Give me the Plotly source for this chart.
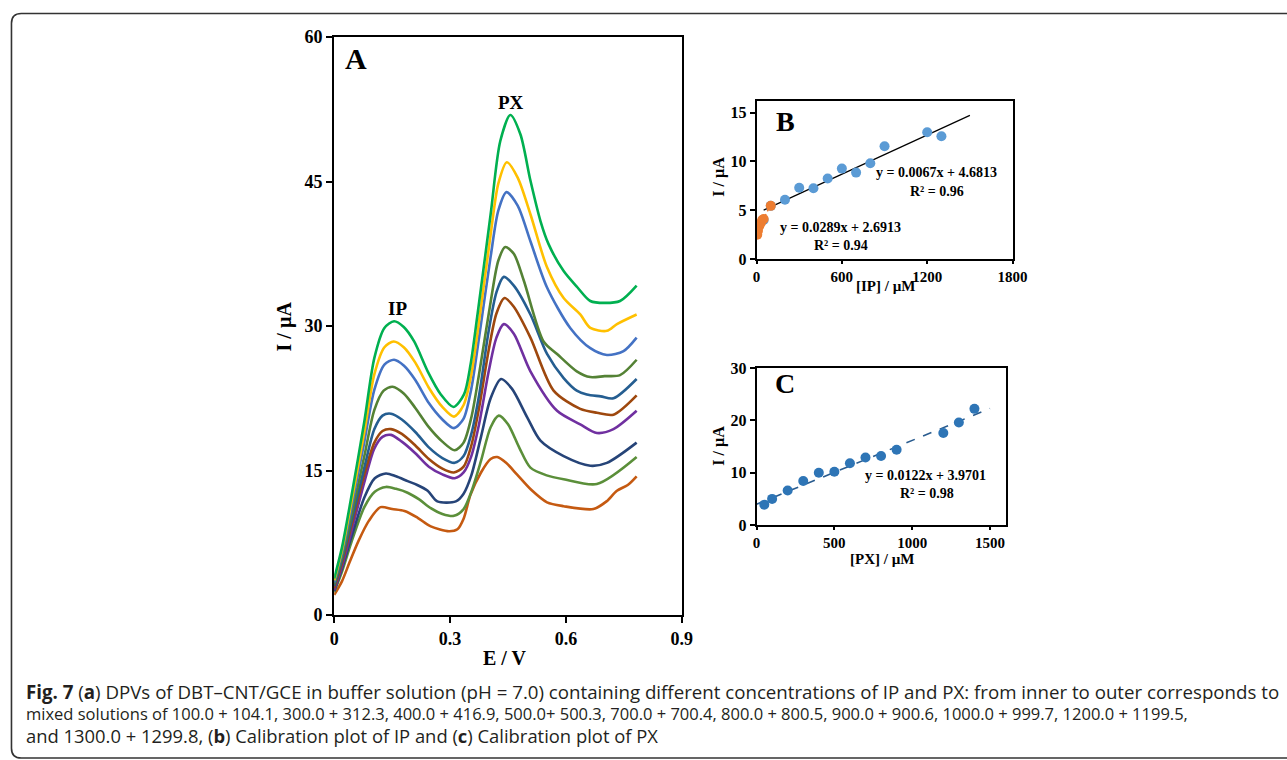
import plotly.graph_objects as go

# Empirical mapping between figure pixels and the photographed page pixels
SX, BX = 0.9885, 2.5
SY, BY = 0.974, 9.0
W, H = 1301, 772

# ---------------- Panel A data (DPV curves, inner -> outer) ----------------
E1 = [0, 0.02, 0.04, 0.063, 0.09, 0.12, 0.15, 0.182, 0.216, 0.25, 0.297, 0.319, 0.335, 0.353, 0.38, 0.405, 0.422, 0.445, 0.473, 0.51, 0.551, 0.594, 0.671, 0.705, 0.732, 0.76, 0.783]
I1 = [2.1, 3.5, 5.5, 7.7, 9.8, 11.2, 11.0, 10.8, 10.1, 9.2, 8.7, 8.9, 10.0, 12.5, 14.8, 16.2, 16.4, 15.8, 14.6, 13.0, 11.7, 11.3, 11.0, 11.8, 12.9, 13.5, 14.4]

E2 = [0, 0.02, 0.044, 0.078, 0.105, 0.134, 0.16, 0.19, 0.22, 0.25, 0.28, 0.31, 0.335, 0.355, 0.38, 0.405, 0.426, 0.45, 0.48, 0.508, 0.55, 0.594, 0.68, 0.783]
I2 = [2.4, 4.5, 7.5, 11.2, 12.8, 13.3, 13.1, 12.7, 12.0, 11.1, 10.5, 10.3, 11.0, 12.8, 16.0, 19.5, 20.7, 19.8, 17.3, 15.3, 14.5, 14.1, 13.6, 16.4]

E3 = [0, 0.02, 0.044, 0.078, 0.105, 0.134, 0.16, 0.19, 0.215, 0.242, 0.267, 0.315, 0.335, 0.355, 0.38, 0.405, 0.432, 0.46, 0.50, 0.534, 0.594, 0.663, 0.706, 0.783]
I3 = [2.5, 4.8, 8.0, 12.2, 14.2, 14.7, 14.4, 13.9, 13.5, 12.9, 11.8, 11.8, 12.6, 14.5, 18.5, 22.5, 24.5, 23.5, 20.5, 18.1, 16.5, 15.5, 15.8, 17.9]

E4 = [0, 0.02, 0.044, 0.078, 0.104, 0.125, 0.147, 0.175, 0.21, 0.245, 0.28, 0.312, 0.335, 0.355, 0.375, 0.40, 0.42, 0.439, 0.465, 0.508, 0.577, 0.637, 0.68, 0.723, 0.783]
I4 = [2.6, 5.0, 8.6, 13.8, 17.3, 18.5, 18.7, 18.0, 16.8, 15.4, 14.6, 14.2, 14.8, 16.5, 19.8, 25.3, 28.8, 30.2, 29.2, 25.3, 21.2, 19.8, 18.9, 19.3, 21.2]

E5 = [0, 0.02, 0.044, 0.078, 0.104, 0.125, 0.147, 0.175, 0.21, 0.245, 0.28, 0.31, 0.335, 0.355, 0.375, 0.40, 0.42, 0.441, 0.465, 0.508, 0.568, 0.637, 0.68, 0.723, 0.783]
I5 = [2.8, 5.4, 9.2, 14.6, 17.9, 19.1, 19.3, 18.8, 17.6, 16.2, 15.2, 14.8, 15.4, 17.6, 21.5, 27.5, 31.3, 32.9, 32.0, 28.8, 23.3, 21.4, 21.0, 20.8, 22.8]

E6 = [0, 0.02, 0.044, 0.078, 0.104, 0.125, 0.147, 0.175, 0.21, 0.245, 0.28, 0.312, 0.335, 0.355, 0.375, 0.40, 0.42, 0.439, 0.465, 0.508, 0.551, 0.594, 0.628, 0.654, 0.69, 0.723, 0.783]
I6 = [3.0, 5.7, 9.6, 15.3, 19.3, 20.7, 20.9, 20.3, 19.0, 17.4, 16.3, 15.8, 16.5, 18.8, 22.8, 29.5, 33.5, 35.1, 34.2, 31.2, 27.1, 24.6, 23.3, 22.9, 22.7, 22.5, 24.5]

E7 = [0, 0.02, 0.044, 0.078, 0.104, 0.128, 0.151, 0.18, 0.21, 0.245, 0.28, 0.312, 0.335, 0.355, 0.375, 0.405, 0.425, 0.443, 0.465, 0.491, 0.542, 0.577, 0.628, 0.663, 0.70, 0.74, 0.783]
I7 = [3.2, 6.0, 10.2, 16.5, 21.3, 23.3, 23.7, 23.0, 21.5, 19.5, 18.0, 17.1, 17.9, 20.5, 25.0, 32.5, 36.8, 38.2, 37.5, 34.7, 28.4, 27.1, 25.3, 24.7, 24.8, 24.9, 26.5]

E8 = [0, 0.02, 0.044, 0.078, 0.104, 0.13, 0.155, 0.18, 0.21, 0.245, 0.28, 0.31, 0.335, 0.355, 0.375, 0.405, 0.425, 0.446, 0.475, 0.508, 0.551, 0.611, 0.663, 0.706, 0.749, 0.783]
I8 = [3.4, 6.4, 11.0, 18.0, 23.4, 26.0, 26.5, 25.9, 24.4, 22.0, 20.3, 19.4, 20.4, 23.5, 28.8, 37.2, 42.0, 43.9, 42.5, 38.8, 34.0, 29.8, 27.7, 27.0, 27.4, 28.8]

E9 = [0, 0.02, 0.044, 0.078, 0.104, 0.13, 0.154, 0.18, 0.21, 0.245, 0.28, 0.31, 0.335, 0.355, 0.375, 0.405, 0.425, 0.447, 0.475, 0.508, 0.551, 0.594, 0.637, 0.663, 0.706, 0.732, 0.783]
I9 = [3.6, 6.7, 11.6, 19.0, 25.0, 27.8, 28.4, 27.8, 26.2, 23.6, 21.6, 20.6, 21.8, 25.0, 30.5, 39.5, 44.8, 47.0, 45.4, 41.6, 36.1, 32.9, 31.2, 29.8, 29.5, 30.2, 31.2]

E10 = [0, 0.02, 0.044, 0.078, 0.104, 0.13, 0.155, 0.18, 0.207, 0.242, 0.276, 0.309, 0.336, 0.353, 0.371, 0.405, 0.43, 0.456, 0.482, 0.508, 0.534, 0.555, 0.594, 0.63, 0.663, 0.70, 0.74, 0.783]
I10 = [3.8, 7.0, 12.2, 20.1, 26.7, 29.8, 30.5, 29.9, 28.4, 25.3, 22.9, 21.6, 22.9, 26.0, 31.2, 41.6, 49.2, 51.9, 49.9, 45.1, 40.9, 38.5, 35.7, 34.0, 32.6, 32.4, 32.6, 34.2]

curves_E = [E1, E2, E3, E4, E5, E6, E7, E8, E9, E10]
curves_I = [I1, I2, I3, I4, I5, I6, I7, I8, I9, I10]
curve_colors = ["#C55A11", "#5B8F3A", "#264478", "#7030A0", "#9E480E",
                "#255E91", "#548235", "#4472C4", "#FFC000", "#00B050"]

# ---------------- Panel B data (IP calibration) ----------------
ip_low_x = [5, 10, 20, 30, 40, 50, 100]
ip_low_y = [2.5, 2.9, 3.4, 3.7, 4.0, 4.1, 5.45]
ip_high_x = [50, 100, 200, 300, 400, 500, 600, 700, 800, 900, 1200, 1300]
ip_high_y = [4.0, 5.45, 6.07, 7.3, 7.26, 8.25, 9.27, 8.86, 9.82, 11.56, 13.0, 12.58]
ip_fit_high = (0.0067, 4.6813)
ip_fit_low = (0.0289, 2.6913)

# ---------------- Panel C data (PX calibration) ----------------
px_x = [50, 100, 200, 300, 400, 500, 600, 700, 800, 900, 1200, 1300, 1400]
px_y = [3.9, 5.0, 6.6, 8.4, 10.0, 10.2, 11.8, 12.9, 13.2, 14.4, 17.6, 19.6, 22.2]
px_fit = (0.0122, 3.9701)

SERIF = "Liberation Serif"

fig = go.Figure()

# Panel A traces
for Ex, Iy, c in zip(curves_E, curves_I, curve_colors):
    fig.add_trace(go.Scatter(x=Ex, y=Iy, mode="lines",
                             line=dict(color=c, width=2.6, shape="spline", smoothing=0.8),
                             xaxis="x", yaxis="y", showlegend=False, hoverinfo="skip"))

# Panel B traces
bx0, bx1 = 50, 1500
fig.add_trace(go.Scatter(x=[bx0, bx1], y=[ip_fit_high[0] * bx0 + ip_fit_high[1], ip_fit_high[0] * bx1 + ip_fit_high[1]],
                         mode="lines", line=dict(color="black", width=1.2),
                         xaxis="x2", yaxis="y2", showlegend=False))
fig.add_trace(go.Scatter(x=ip_high_x, y=ip_high_y, mode="markers",
                         marker=dict(color="#5B9BD5", size=10),
                         xaxis="x2", yaxis="y2", showlegend=False))
lx0, lx1 = 0, 100
fig.add_trace(go.Scatter(x=[lx0, lx1], y=[ip_fit_low[0] * lx0 + ip_fit_low[1], ip_fit_low[0] * lx1 + ip_fit_low[1]],
                         mode="lines", line=dict(color="#ED7D31", width=1.5, dash="dot"),
                         xaxis="x2", yaxis="y2", showlegend=False))
fig.add_trace(go.Scatter(x=ip_low_x, y=ip_low_y, mode="markers",
                         marker=dict(color="#ED7D31", size=10),
                         xaxis="x2", yaxis="y2", showlegend=False))

# Panel C traces
cx0, cx1 = 0, 1500
fig.add_trace(go.Scatter(x=[cx0, cx1], y=[px_fit[0] * cx0 + px_fit[1], px_fit[0] * cx1 + px_fit[1]],
                         mode="lines", line=dict(color="#2A5C8F", width=1.6, dash="dash"),
                         xaxis="x3", yaxis="y3", showlegend=False))
fig.add_trace(go.Scatter(x=px_x, y=px_y, mode="markers",
                         marker=dict(color="#2E75B6", size=10),
                         xaxis="x3", yaxis="y3", showlegend=False))


def px2fx(p):
    return ((p - BX) / SX) / W


def py2fy(p):
    return 1 - ((p - BY) / SY) / H


def ax_style(lw, fs, ticklen):
    return dict(showline=True, linecolor="black", linewidth=lw, mirror=True,
                ticks="outside", ticklen=ticklen, tickwidth=lw, tickcolor="black",
                showgrid=False, zeroline=False,
                tickfont=dict(family=SERIF, size=fs, color="black", weight="bold"))


fig.update_layout(
    width=W, height=H, autosize=False,
    margin=dict(l=0, r=0, t=0, b=0),
    paper_bgcolor="white", plot_bgcolor="white",
    showlegend=False,
    xaxis=dict(domain=[px2fx(333), px2fx(682)], range=[0, 0.9], tickvals=[0, 0.3, 0.6, 0.9],
               ticktext=["0", "0.3", "0.6", "0.9"], anchor="y", **ax_style(2.2, 18, 6)),
    yaxis=dict(domain=[py2fy(614), py2fy(36)], range=[0, 60], tickvals=[0, 15, 30, 45, 60],
               anchor="x", **ax_style(2.2, 18, 6)),
    xaxis2=dict(domain=[px2fx(757), px2fx(1014)], range=[0, 1800], tickvals=[0, 600, 1200, 1800],
                anchor="y2", **ax_style(1.5, 15, 3)),
    yaxis2=dict(domain=[py2fy(258), py2fy(100)], range=[0, 16.2], tickvals=[0, 5, 10, 15],
                anchor="x2", **ax_style(1.5, 16, 5)),
    xaxis3=dict(domain=[px2fx(757), px2fx(1007)], range=[0, 1600], tickvals=[0, 500, 1000, 1500],
                anchor="y3", **ax_style(1.5, 15, 3)),
    yaxis3=dict(domain=[py2fy(524), py2fy(367)], range=[0, 30], tickvals=[0, 10, 20, 30],
                anchor="x3", **ax_style(1.5, 16, 5)),
)

ann = []


def txt(x, y, s, size, xref="paper", yref="paper", bold=True, angle=0, family=SERIF,
        xanchor="center", color="black"):
    ann.append(dict(x=x, y=y, xref=xref, yref=yref, text=s, showarrow=False,
                    textangle=angle, xanchor=xanchor, yanchor="middle",
                    font=dict(family=family, size=size, color=color,
                              weight="bold" if bold else "normal")))


# Panel A texts
txt(px2fx(355), py2fy(57), "A", 30)
txt(0.165, 31.8, "IP", 19, xref="x", yref="y")
txt(0.459, 53.2, "PX", 19, xref="x", yref="y")
txt(px2fx(504), py2fy(657), "E / V", 20)
txt(px2fx(283), py2fy(325), "I / µA", 20, angle=-90)

# Panel B texts
txt(px2fx(786), py2fy(120), "B", 28)
txt(px2fx(938), py2fy(171), "y = 0.0067x + 4.6813", 14)
txt(px2fx(938), py2fy(190), "R² = 0.96", 14)
txt(px2fx(841), py2fy(226), "y = 0.0289x + 2.6913", 14)
txt(px2fx(842), py2fy(244), "R² = 0.94", 14)
txt(px2fx(719), py2fy(176), "I / µA", 16, angle=-90)
txt(px2fx(886), py2fy(285), "[IP] / µM", 15)

# Panel C texts
txt(px2fx(786), py2fy(382), "C", 28)
txt(px2fx(927), py2fy(474), "y = 0.0122x + 3.9701", 14)
txt(px2fx(928), py2fy(492), "R² = 0.98", 14)
txt(px2fx(719), py2fy(445), "I / µA", 16, angle=-90)
txt(px2fx(883), py2fy(558), "[PX] / µM", 15)

# Caption
CAP = "Open Sans"
cap1 = ("<b>Fig. 7</b> (<b>a</b>) DPVs of DBT–CNT/GCE in buffer solution (pH = 7.0) containing different "
        "concentrations of IP and PX: from inner to outer corresponds to")
cap2 = ("mixed solutions of 100.0 + 104.1, 300.0 + 312.3, 400.0 + 416.9, 500.0+ 500.3, 700.0 + 700.4, "
        "800.0 + 800.5, 900.0 + 900.6, 1000.0 + 999.7, 1200.0 + 1199.5,")
cap3 = "and 1300.0 + 1299.8, (<b>b</b>) Calibration plot of IP and (<b>c</b>) Calibration plot of PX"
for yy, s, fs in [(690, cap1, 18.7), (712, cap2, 16.5), (734, cap3, 18.4)]:
    txt(px2fx(22), py2fy(yy), s, fs, bold=False, family=CAP, xanchor="left", color="#231F20")

fig.update_layout(annotations=ann)

# Rounded outer frame
x0 = px2fx(9)
yt = py2fy(12.5)
yb = py2fy(757)
rx, ry = 10 / W, 10 / H
path = (f"M {x0 + rx},{yt} L 1.02,{yt} "
        f"M {x0},{yt - ry} Q {x0},{yt} {x0 + rx},{yt} "
        f"M {x0},{yt - ry} L {x0},{yb + ry} Q {x0},{yb} {x0 + rx},{yb} L 1.02,{yb}")
fig.add_shape(type="path", path=path, xref="paper", yref="paper",
              line=dict(color="#333333", width=1.6))

fig.write_html("out.html")
